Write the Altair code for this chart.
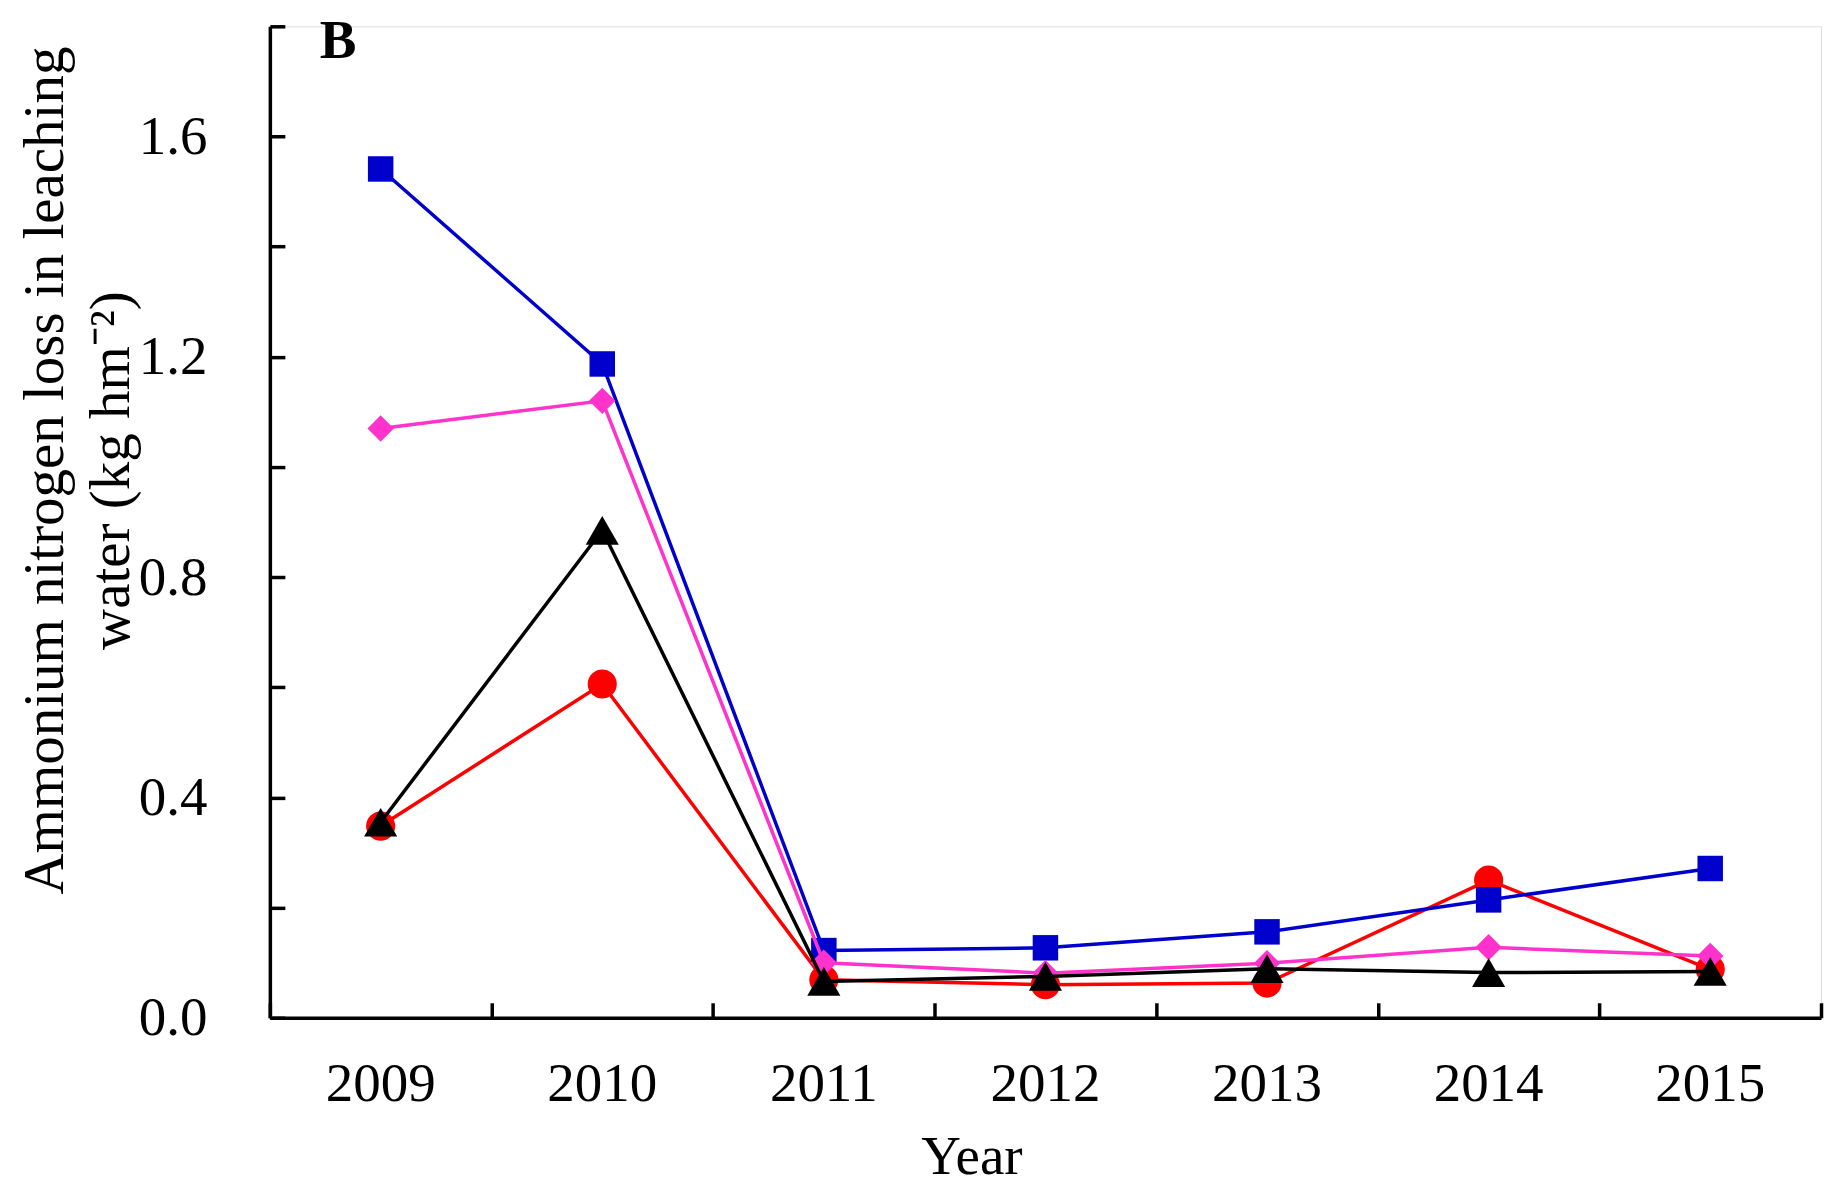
import altair as alt
import pandas as pd

# ---- data ----
years = ["2009", "2010", "2011", "2012", "2013", "2014", "2015"]
red_circle = [0.348, 0.606, 0.069, 0.060, 0.063, 0.250, 0.088]
blue_square = [1.541, 1.187, 0.122, 0.127, 0.156, 0.214, 0.271]
magenta_diamond = [1.070, 1.120, 0.100, 0.081, 0.099, 0.128, 0.112]
black_triangle = [0.355, 0.885, 0.066, 0.075, 0.089, 0.082, 0.084]

panel_label = ["B"]
y_label_values = [0.0, 0.4, 0.8, 1.2, 1.6]
y_tick_values = [0.0, 0.2, 0.4, 0.6, 0.8, 1.0, 1.2, 1.4, 1.6, 1.8]

series = [
    ("red", red_circle, "#FF0000", "circle", 850),
    ("blue", blue_square, "#0000CC", "square", 650),
    ("magenta", magenta_diamond, "#FF33CC", "diamond", 700),
    ("black", black_triangle, "#000000", "triangle-up", 1100),
]

rows = []
for name, vals, _, _, _ in series:
    for yr, v in zip(years, vals):
        rows.append({"year": yr, "value": v, "series": name})
df = pd.DataFrame(rows)

FONT = "Liberation Serif"
FS = 55
LW = 3.5

x_scale = alt.Scale(type="band", paddingInner=0, paddingOuter=0, domain=years)
y_scale = alt.Scale(domain=[0, 1.8], nice=False, zero=True)

x_main = alt.X(
    "year:O",
    scale=x_scale,
    axis=alt.Axis(
        orient="bottom",
        title="Year", labelAngle=0, ticks=False, tickSize=0, labelPadding=40,
        domain=True, domainWidth=LW, domainColor="black", grid=False,
        labelFont=FONT, labelFontSize=FS, labelColor="black",
        titleFont=FONT, titleFontSize=FS, titleFontWeight="normal", titleColor="black",
        titleX=702, titleY=156, titleBaseline="alphabetic", titleAlign="center",
    ),
)
y_main = alt.Y(
    "value:Q",
    scale=y_scale,
    axis=alt.Axis(
        orient="left",
        title=["Ammonium nitrogen loss in leaching", "water (kg hm\u207b\u00b2)"],
        values=y_label_values, format=".1f", ticks=False, tickSize=0, labelPadding=63,
        domain=True, domainWidth=LW, domainColor="black", grid=False,
        labelFont=FONT, labelFontSize=FS, labelColor="black",
        titleFont=FONT, titleFontSize=57, titleFontWeight="normal", titleColor="black",
        titleX=-207, titleY=444, titleBaseline="alphabetic", titleAlign="center",
        titleLineHeight=66,
    ),
)
x_ticks = alt.X(
    "year:O",
    scale=x_scale,
    axis=alt.Axis(
        orient="bottom",
        title="", labels=False, domain=False, grid=False, ticks=True,
        tickSize=15, tickWidth=LW, tickColor="black", tickBand="extent", offset=-15,
    ),
)
y_ticks = alt.Y(
    "value:Q",
    scale=y_scale,
    axis=alt.Axis(
        orient="left",
        title="", labels=False, domain=False, grid=False, ticks=True,
        values=y_tick_values, tickSize=15, tickWidth=LW, tickColor="black", offset=-15,
    ),
)
x_none = alt.X("year:O", scale=x_scale, axis=None)
y_none = alt.Y("value:Q", scale=y_scale, axis=None)

layers = []
for i, (name, vals, color, shape, size) in enumerate(series):
    base = alt.Chart(df).transform_filter(alt.datum.series == name)
    if i == 0:
        lx, ly = x_main, y_main
        px, py = x_ticks, y_ticks
    else:
        lx, ly = x_none, y_none
        px, py = x_none, y_none
    line = base.mark_line(color=color, strokeWidth=LW).encode(x=lx, y=ly)
    pts = base.mark_point(shape=shape, filled=True, size=size, color=color,
                          opacity=1, strokeWidth=0).encode(x=px, y=py)
    layers += [line, pts]

label = alt.Chart(pd.DataFrame({"label": panel_label})).mark_text(
    align="left", baseline="alphabetic", font=FONT, fontSize=FS,
    fontWeight="bold", color="black",
).encode(text="label:N", x=alt.value(50), y=alt.value(32))
layers.append(label)

chart = (
    alt.layer(*layers)
    .resolve_axis(x="independent", y="independent")
    .properties(
        width=1552,
        height=992,
        autosize=alt.AutoSizeParams(type="none"),
        padding={"left": 262, "top": 18, "right": 10, "bottom": 170},
    )
    .configure_view(strokeWidth=0)
    .configure(background="white")
)

chart.save("out.html", embed_options={"renderer": "svg", "actions": False})
